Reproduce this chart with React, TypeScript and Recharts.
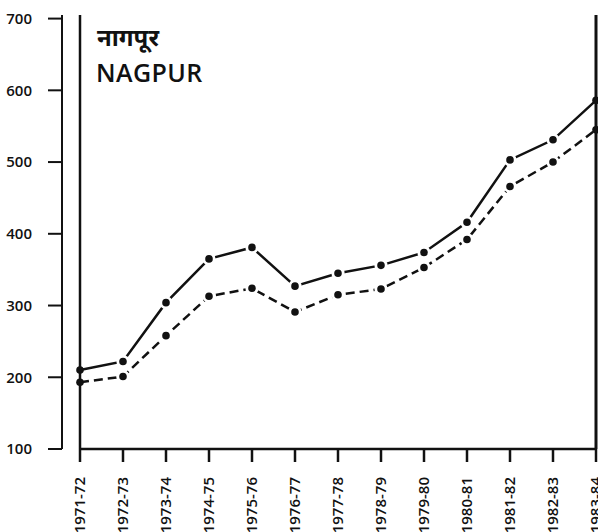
import { Line, LineChart, XAxis, YAxis } from "recharts"

const years = [
  "1971-72", "1972-73", "1973-74", "1974-75", "1975-76", "1976-77", "1977-78",
  "1978-79", "1979-80", "1980-81", "1981-82", "1982-83", "1983-84",
]
const solidSeries = [210, 222, 304, 365, 381, 327, 345, 356, 374, 416, 503, 531, 586]
const dashedSeries = [193, 201, 258, 313, 324, 291, 315, 323, 353, 392, 466, 500, 545]
const yTicks = [100, 200, 300, 400, 500, 600, 700]

const data = years.map((year, i) => ({ year, solid: solidSeries[i], dashed: dashedSeries[i] }))

const INK = "#111"
const FONT = "'Open Sans', 'Noto Sans', sans-serif"

function YearTick({ x, y, payload }: any) {
  return (
    <g transform={`translate(${x},${y})`}>
      <text
        transform="rotate(-90)"
        x={-13}
        y={0}
        dy="0.36em"
        textAnchor="end"
        fontFamily={FONT}
        fontSize={15}
        fontWeight={600}
        fill={INK}
      >
        {payload.value}
      </text>
    </g>
  )
}

function ValueTick({ x, y, payload }: any) {
  return (
    <text x={x - 14} y={y} dy="0.36em" textAnchor="end" fontFamily={FONT} fontSize={15} fontWeight={600} fill={INK}>
      {payload.value}
    </text>
  )
}

// white halo round inner dots, like the printed original
function Dot({ cx, cy, index }: any) {
  const edge = index === 0 || index === years.length - 1
  return <circle cx={cx} cy={cy} r={edge ? 3.8 : 5.2} fill={INK} stroke={edge ? "none" : "#fff"} strokeWidth={2.8} />
}

export default function App() {
  return (
    <div style={{ position: "absolute", left: 0, top: 0, width: 598, height: 532, background: "#fff" }}>
      <LineChart width={598} height={532} data={data} margin={{ top: 15, right: 0, bottom: 0, left: 0 }}>
        <XAxis
          xAxisId="top"
          orientation="top"
          dataKey="year"
          height={0}
          tick={false}
          tickLine={false}
          axisLine={{ stroke: INK, strokeWidth: 2.5 }}
        />
        <XAxis
          xAxisId="x"
          dataKey="year"
          height={83}
          interval={0}
          tickSize={13}
          tickLine={{ stroke: INK, strokeWidth: 2.5 }}
          axisLine={{ stroke: INK, strokeWidth: 2.5 }}
          tick={<YearTick />}
        />
        {/* frame line next to the plot; the scale axis sits further left */}
        <YAxis
          yAxisId="frame"
          width={18}
          domain={[100, 705]}
          ticks={yTicks}
          tick={false}
          tickLine={false}
          axisLine={{ stroke: INK, strokeWidth: 2.5 }}
        />
        <YAxis
          yAxisId="main"
          width={62}
          domain={[100, 705]}
          ticks={yTicks}
          interval={0}
          tickSize={14}
          tickLine={{ stroke: INK, strokeWidth: 2 }}
          axisLine={{ stroke: INK, strokeWidth: 2 }}
          tick={<ValueTick />}
        />
        <YAxis
          yAxisId="right"
          orientation="right"
          width={2}
          domain={[100, 705]}
          tick={false}
          tickLine={false}
          axisLine={{ stroke: INK, strokeWidth: 3 }}
        />
        <Line
          xAxisId="x"
          yAxisId="main"
          dataKey="solid"
          type="linear"
          stroke={INK}
          strokeWidth={2.5}
          dot={<Dot />}
          isAnimationActive={false}
        />
        <Line
          xAxisId="x"
          yAxisId="main"
          dataKey="dashed"
          type="linear"
          stroke={INK}
          strokeWidth={2.5}
          strokeDasharray="9 5"
          dot={<Dot />}
          isAnimationActive={false}
        />
      </LineChart>
      <div
        style={{
          position: "absolute",
          left: 97,
          top: 21,
          fontFamily: FONT,
          fontSize: 24,
          fontWeight: 700,
          color: INK,
          lineHeight: "32px",
        }}
      >
        नागपूर
      </div>
      <div
        style={{
          position: "absolute",
          left: 96,
          top: 56,
          fontFamily: FONT,
          fontSize: 25,
          fontWeight: 600,
          color: INK,
          lineHeight: "32px",
          letterSpacing: 0.4,
        }}
      >
        NAGPUR
      </div>
    </div>
  )
}
